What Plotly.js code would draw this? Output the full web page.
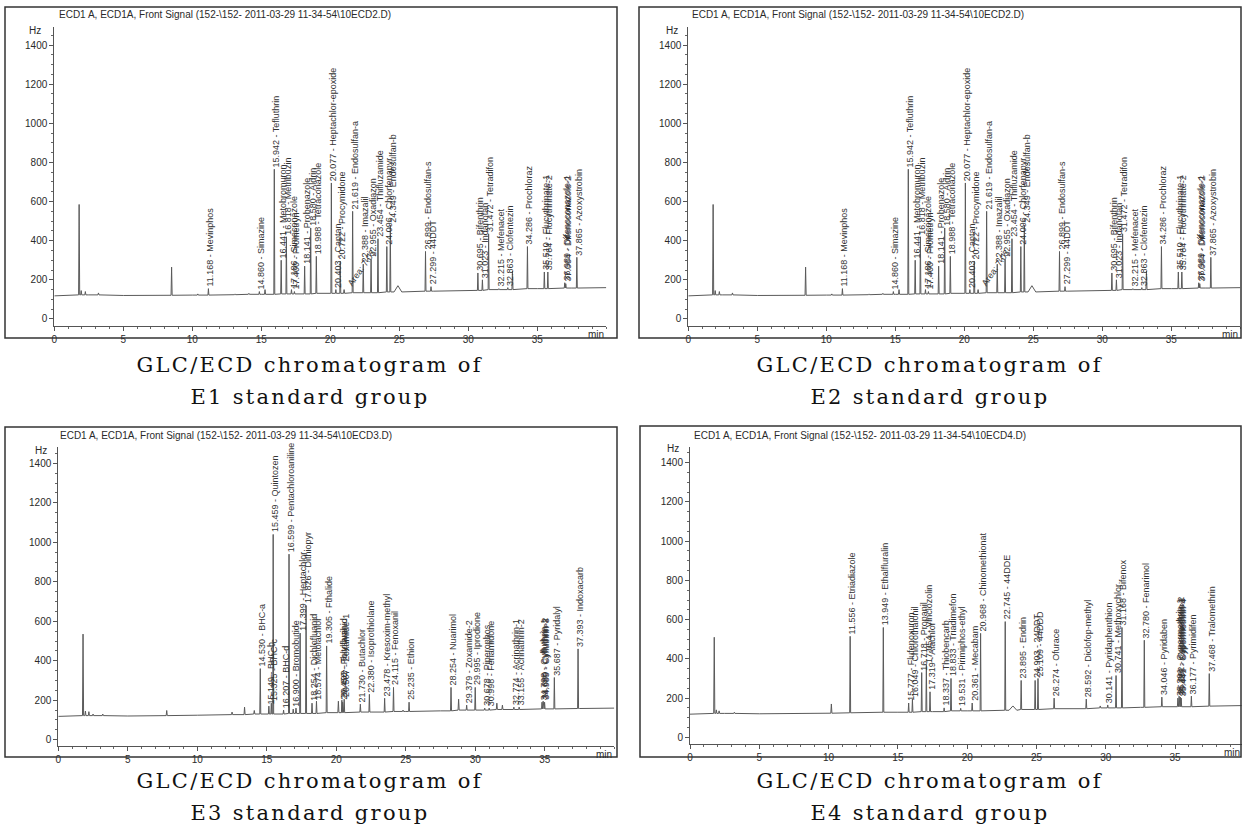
<!DOCTYPE html>
<html>
<head>
<meta charset="utf-8">
<script src="https://cdn.plot.ly/plotly-3.0.1.min.js"></script>
<style>
  html, body { margin: 0; padding: 0; background: #ffffff; }
  #chart { width: 1243px; height: 829px; }
</style>
</head>
<body>
<div id="chart"></div>
<script>
// ---------------------------------------------------------------
// GLC/ECD chromatograms of four pesticide standard groups (E1-E4)
// ---------------------------------------------------------------

// Baseline sampling times (min), shared by every run
const baseTimes = [0, 2.5, 5, 7.5, 10, 12.5, 15, 17.5, 20, 22.5, 25, 27.5, 30, 32.5, 35, 37.5, 40];

// ---- E1 standard group (data file 10ECD2.D) ----
const e1Times = [11.168, 14.860, 15.942, 16.441, 16.818, 17.186, 17.400, 18.141, 18.580, 18.988,
                 20.077, 20.403, 20.722, 21.619, 22.388, 22.955, 23.454, 24.096, 24.349, 26.899,
                 27.299, 30.695, 31.023, 31.472, 32.215, 32.863, 34.286, 35.510, 35.764, 36.989,
                 37.064, 37.865];
const e1Heights = [155, 140, 765, 300, 420, 150, 140, 270, 465, 320,
                   695, 150, 295, 550, 280, 305, 410, 370, 480, 345,
                   165, 235, 200, 435, 155, 160, 370, 240, 240, 185,
                   180, 315];
const e1Names = ['Mevinphos', 'Simazine', 'Tefluthrin', 'Metobromuron', 'Metribuzin', 'Simeconazole',
                 'Prometryn', 'Probenazole', 'Aldrin', 'Tetraconazole', 'Heptachlor-epoxide', 'Captan',
                 'Procymidone', 'Endosulfan-a', 'Imazalil', 'Oxadiazon', 'Thifluzamide', 'Chlorfenapyr',
                 'Endosulfan-b', 'Endosulfan-s', '44DDT', 'Bifenthrin', 'Indanofan', 'Tetradifon',
                 'Mefenacet', 'Clofentezin', 'Prochloraz', 'Flucythrinate-1', 'Flucythrinate-2',
                 'Difenoconazole-1', 'Difenoconazole-2', 'Azoxystrobin'];
const e1MinorTimes   = [1.80, 1.95, 2.25, 3.20, 8.50, 10.40, 13.10, 14.10, 15.27, 21.000, 33.20];
const e1MinorHeights = [585, 145, 140, 133, 265, 128, 128, 131, 150, 150, 245];
const e1HumpTimes    = [24.90];
const e1HumpHeights  = [170];
const e1BaseLevels = [118, 123, 120, 121, 122, 124, 126, 128, 131, 134, 138, 142, 146, 150, 155, 158, 160];
const e1AreaNote = 'Area: 7.03';
const e1AreaTime = 21.000;
const e1AreaLevel = 150;

// ---- E2 standard group (the same data file, 10ECD2.D) ----
const e2Times = e1Times;
const e2Heights = e1Heights;
const e2Names = e1Names;
const e2MinorTimes = e1MinorTimes;
const e2MinorHeights = e1MinorHeights;
const e2HumpTimes = e1HumpTimes;
const e2HumpHeights = e1HumpHeights;
const e2BaseLevels = e1BaseLevels;

// ---- E3 standard group (data file 10ECD3.D) ----
const e3Times = [14.530, 15.149, 15.325, 15.459, 16.207, 16.599, 16.900, 17.399, 17.826, 18.254,
                 18.574, 19.305, 20.402, 20.458, 20.567, 21.730, 22.380, 23.478, 24.115, 25.235,
                 28.254, 29.379, 29.995, 30.678, 30.998, 32.774, 33.155, 34.798, 34.880, 34.985,
                 35.687, 37.393];
const e3Heights = [360, 170, 185, 1040, 150, 940, 155, 540, 680, 185,
                   195, 475, 200, 190, 205, 180, 230, 210, 265, 190,
                   265, 175, 265, 160, 160, 165, 165, 190, 195, 190,
                   315, 460];
const e3Names = ['BHC-a', 'BHC-b', 'BHC-c', 'Quintozen', 'BHC-d', 'Pentachloroaniline', 'Bromobutide',
                 'Heptachlor', 'Dithiopyr', 'Dichlofluanid', 'Metolachlor', 'Fthalide', 'Tolylfluanid',
                 'Flutolanil', 'Zoxamide-1', 'Butachlor', 'Isoprothiolane', 'Kresoxim-methyl', 'Fenoxanil',
                 'Ethion', 'Nuarimol', 'Zoxamide-2', 'Iprodione', 'Piperophos', 'Fenamidone',
                 'Acrinathrin-1', 'Acrinathrin-2', 'Cyfluthrin-1', 'Cyfluthrin-2', 'Cyfluthrin-3',
                 'Pyridalyl', 'Indoxacarb'];
const e3MinorTimes   = [1.78, 1.95, 2.20, 2.50, 3.20, 7.80, 12.50, 13.40, 14.10, 17.10, 20.15, 24.80, 28.80, 31.55, 31.95];
const e3MinorHeights = [535, 145, 142, 130, 130, 148, 140, 165, 148, 160, 195, 150, 205, 185, 175];
const e3HumpTimes    = [];
const e3HumpHeights  = [];
const e3BaseLevels = [118, 122, 120, 122, 124, 127, 130, 133, 137, 140, 143, 146, 150, 153, 156, 158, 160];

// ---- E4 standard group (data file 10ECD4.D) ----
const e4Times = [11.556, 13.949, 15.777, 16.049, 16.718, 17.054, 17.319, 18.337, 18.833, 19.531,
                 20.361, 20.968, 22.745, 23.895, 24.903, 25.109, 26.274, 28.592, 30.141, 30.741,
                 31.168, 32.780, 34.046, 35.201, 35.292, 35.383, 35.441, 36.177, 37.468];
const e4Heights = [515, 560, 175, 195, 330, 370, 232, 150, 300, 148,
                   175, 530, 590, 290, 290, 300, 200, 195, 165, 315,
                   560, 495, 205, 200, 210, 205, 200, 210, 325];
const e4Names = ['Etriadiazole', 'Ethalfluralin', 'Flufenoxuron', 'Chlorothalonil', 'Propanil', 'Vinclozolin',
                 'Alachlor', 'Thiobencarb', 'Triadimefon', 'Pirimiphos-ethyl', 'Mecabam', 'Chinomethionat',
                 '44DDE', 'Endrin', '24DDT', '44DDD', 'Ofurace', 'Diclofop-methyl', 'Pyridaphenthion',
                 'Methoxychlor', 'Bifenox', 'Fenarimol', 'Pyridaben', 'Cypermethrin-1', 'Cypermethrin-2',
                 'Cypermethrin-3', 'Cypermethrin-4', 'Pyrimidifen', 'Tralomethrin'];
const e4MinorTimes   = [1.75, 1.90, 2.10, 3.20, 10.20, 29.60];
const e4MinorHeights = [510, 140, 135, 128, 170, 160];
const e4HumpTimes    = [23.30];
const e4HumpHeights  = [160];
const e4BaseLevels = [118, 122, 120, 121, 123, 125, 128, 131, 135, 138, 142, 146, 150, 153, 156, 159, 162];

// Tick values
const xTickValues = [0, 5, 10, 15, 20, 25, 30, 35];
const yTickValues = [0, 200, 400, 600, 800, 1000, 1200, 1400];

// Header line and captions
const runHeaders = [
  'ECD1 A, ECD1A, Front Signal (152-\\152- 2011-03-29 11-34-54\\10ECD2.D)',
  'ECD1 A, ECD1A, Front Signal (152-\\152- 2011-03-29 11-34-54\\10ECD2.D)',
  'ECD1 A, ECD1A, Front Signal (152-\\152- 2011-03-29 11-34-54\\10ECD3.D)',
  'ECD1 A, ECD1A, Front Signal (152-\\152- 2011-03-29 11-34-54\\10ECD4.D)'
];
const captionLine1 = 'GLC/ECD chromatogram of';
const groupNames = ['E1', 'E2', 'E3', 'E4'];

// ---------------------------------------------------------------
// Page geometry (pixels on the 1243 x 829 page)
// ---------------------------------------------------------------
const W = 1243, H = 829;
const px = v => v / W;
const py = v => 1 - v / H;

const panels = [
  { left: 54.3, right: 606.3, top: 27, bottom: 326, xr: [0, 40], yr: [-36, 1492],
    box: [5, 7, 617, 338], head: [57, 14], hz: [43, 30], cap: [310, 365, 397],
    data: { t: e1Times, h: e1Heights, n: e1Names, mt: e1MinorTimes, mh: e1MinorHeights,
            ht: e1HumpTimes, hh: e1HumpHeights, base: e1BaseLevels }, area: true },
  { left: 688.3, right: 1240.3, top: 27, bottom: 326, xr: [0, 40], yr: [-36, 1492],
    box: [639, 7, 1241, 338], head: [690, 14], hz: [680, 30], cap: [930, 365, 397],
    data: { t: e2Times, h: e2Heights, n: e2Names, mt: e2MinorTimes, mh: e2MinorHeights,
            ht: e2HumpTimes, hh: e2HumpHeights, base: e2BaseLevels }, area: true },
  { left: 58.3, right: 614.3, top: 447, bottom: 746, xr: [0, 40], yr: [-32, 1483],
    box: [5, 427, 617, 757], head: [58, 435], hz: [49, 450], cap: [310, 781, 813],
    data: { t: e3Times, h: e3Heights, n: e3Names, mt: e3MinorTimes, mh: e3MinorHeights,
            ht: e3HumpTimes, hh: e3HumpHeights, base: e3BaseLevels }, area: false },
  { left: 690, right: 1241.6, top: 447, bottom: 744, xr: [0, 39.8], yr: [-34, 1480],
    box: [640, 426, 1241, 757], head: [692, 435], hz: [681, 448], cap: [930, 781, 813],
    data: { t: e4Times, h: e4Heights, n: e4Names, mt: e4MinorTimes, mh: e4MinorHeights,
            ht: e4HumpTimes, hh: e4HumpHeights, base: e4BaseLevels }, area: false }
];

const SANS = 'Liberation Sans, Arial, sans-serif';
const SERIF = 'DejaVu Serif, Liberation Serif, serif';
const INK = '#2a2a2a';
const TRACE = '#5a5a5a';

// Baseline level at the sampling time closest to t
function baseAt(levels, t) {
  let best = 0;
  baseTimes.forEach((bt, i) => { if (Math.abs(bt - t) < Math.abs(baseTimes[best] - t)) best = i; });
  return levels[best];
}

// Signal trace: baseline samples plus a narrow triangle for every peak
function signal(d) {
  const peaks = [];
  d.t.forEach((t, i) => peaks.push([t, d.h[i], 0.035]));
  d.mt.forEach((t, i) => peaks.push([t, d.mh[i], 0.04]));
  d.ht.forEach((t, i) => peaks.push([t, d.hh[i], 0.28]));
  const pts = [];
  baseTimes.forEach((bt, i) => {
    if (!peaks.some(p => Math.abs(bt - p[0]) <= p[2] + 0.01)) pts.push([bt, d.base[i]]);
  });
  peaks.forEach(([t, h, w]) => {
    const b = baseAt(d.base, t);
    pts.push([t - w, b], [t, h], [t + w, b]);
  });
  pts.sort((a, b) => a[0] - b[0]);
  return { x: pts.map(p => p[0]), y: pts.map(p => p[1]) };
}

const traces = [];
const annotations = [];
const shapes = [];
const layout = {
  width: W, height: H, autosize: false,
  margin: { l: 0, r: 0, t: 0, b: 0, pad: 0 },
  paper_bgcolor: '#ffffff', plot_bgcolor: '#ffffff',
  showlegend: false, font: { family: SANS, color: INK }
};

panels.forEach((p, k) => {
  const sfx = k === 0 ? '' : String(k + 1);
  const xa = 'x' + sfx, ya = 'y' + sfx;
  const s = signal(p.data);
  traces.push({ type: 'scatter', mode: 'lines', x: s.x, y: s.y, xaxis: xa, yaxis: ya,
                line: { color: TRACE, width: 1 }, hoverinfo: 'skip' });

  const common = { showline: true, linecolor: '#555', linewidth: 1, ticks: 'outside', ticklen: 4,
                   tickwidth: 1, tickcolor: '#555', showgrid: false, zeroline: false, fixedrange: true,
                   tickfont: { family: SANS, size: 10, color: INK } };
  layout['xaxis' + sfx] = Object.assign({}, common, {
    domain: [px(p.left), px(p.right)], range: p.xr, anchor: ya,
    tickmode: 'array', tickvals: xTickValues, ticktext: xTickValues.map(String),
    minor: { ticks: 'outside', ticklen: 2, tickwidth: 1, tickcolor: '#666', dtick: 1, tick0: 0 }
  });
  layout['yaxis' + sfx] = Object.assign({}, common, {
    domain: [py(p.bottom), py(p.top)], range: p.yr, anchor: xa,
    tickmode: 'array', tickvals: yTickValues, ticktext: yTickValues.map(String),
    minor: { ticks: 'outside', ticklen: 2, tickwidth: 1, tickcolor: '#666', dtick: 50, tick0: 0 }
  });

  // Peak labels: retention time and compound, written upward from the peak apex
  p.data.t.forEach((t, i) => {
    annotations.push({ xref: xa, yref: ya, x: t, y: p.data.h[i],
      text: t.toFixed(3) + ' - ' + p.data.n[i], textangle: -90, showarrow: false,
      xanchor: 'center', yanchor: 'bottom', xshift: 2, yshift: 1, borderpad: 0,
      font: { family: SANS, size: 9, color: '#333' } });
  });
  if (p.area) {
    annotations.push({ xref: xa, yref: ya, x: e1AreaTime, y: e1AreaLevel, text: e1AreaNote,
      textangle: -55, showarrow: false, xanchor: 'left', yanchor: 'bottom', borderpad: 0,
      font: { family: SANS, size: 9, color: '#333' } });
  }

  // Axis unit labels and the run header
  annotations.push({ xref: 'paper', yref: 'paper', x: px(p.hz[0]), y: py(p.hz[1]), text: 'Hz',
    showarrow: false, xanchor: 'right', yanchor: 'middle', font: { family: SANS, size: 10, color: INK } });
  annotations.push({ xref: xa, yref: 'paper', x: p.xr[1], y: py(p.bottom + 8), text: 'min',
    showarrow: false, xanchor: 'right', yanchor: 'middle', font: { family: SANS, size: 10, color: INK } });
  annotations.push({ xref: 'paper', yref: 'paper', x: px(p.head[0]), y: py(p.head[1]), text: runHeaders[k],
    showarrow: false, xanchor: 'left', yanchor: 'middle', font: { family: SANS, size: 10, color: INK } });

  // Caption under the panel
  annotations.push({ xref: 'paper', yref: 'paper', x: px(p.cap[0]), y: py(p.cap[1]), text: captionLine1,
    showarrow: false, xanchor: 'center', yanchor: 'middle', font: { family: SERIF, size: 21, color: '#111' } });
  annotations.push({ xref: 'paper', yref: 'paper', x: px(p.cap[0]), y: py(p.cap[2]),
    text: groupNames[k] + ' standard group',
    showarrow: false, xanchor: 'center', yanchor: 'middle', font: { family: SERIF, size: 21, color: '#111' } });

  // Frame around the chromatogram
  shapes.push({ type: 'rect', xref: 'paper', yref: 'paper',
    x0: px(p.box[0]), x1: px(p.box[2]), y0: py(p.box[3]), y1: py(p.box[1]),
    line: { color: '#333', width: 1.5 }, fillcolor: 'rgba(0,0,0,0)' });
});

layout.annotations = annotations;
layout.shapes = shapes;

Plotly.newPlot('chart', traces, layout, { staticPlot: true, displayModeBar: false }).then(gd => {
  // Captions are set in a wide serif, so open up their letter spacing
  gd.querySelectorAll('g.annotation text.annotation-text').forEach(el => {
    const s = el.textContent;
    if (s === captionLine1 || / standard group$/.test(s)) {
      el.style.letterSpacing = '2.3px';
    }
  });
});
</script>
</body>
</html>
